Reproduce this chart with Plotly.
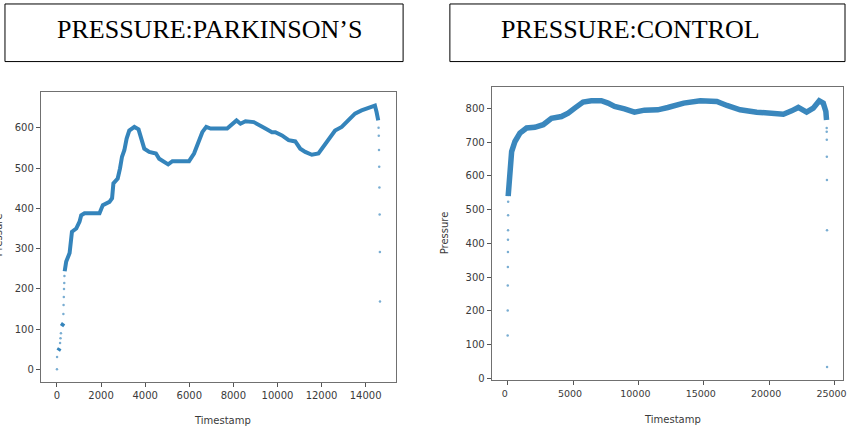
import plotly.graph_objects as go

W, H = 851, 440

# ---- Parkinson's subject: pressure over time ----
# dense part of the trace (None splits the clusters that are separated by sparse samples)
pk_time = [60, 90, 125, None,
           210, 250, 300, None,
           350, 420, 573, 680, 875, 1025, 1100, 1250, 1930, 2080, 2380, 2500, 2560,
           2755, 2860, 2950, 3056, 3160, 3280, 3510, 3700, 3810, 3960, 4185, 4490,
           4636, 4862, 5043, 5237, 5990, 6217, 6443, 6592, 6772, 6970, 7720, 7870,
           8143, 8323, 8550, 8925, 9150, 9453, 9750, 9905, 10205, 10506, 10808,
           11034, 11260, 11560, 11860, 12085, 12390, 12613, 12915, 13215, 13517,
           13815, 14117, 14420, 14495, 14570]
pk_pressure = [47, 52, 53, None,
               108, 113, 115, None,
               244, 268, 289, 342, 350, 367, 383, 388, 388, 408, 416, 425, 462,
               474, 499, 528, 544, 573, 593, 602, 596, 577, 548, 540, 536,
               523, 514, 509, 517, 517, 536, 565, 589, 602, 598, 598, 606,
               618, 610, 616, 614, 606, 598, 589, 589, 581, 569, 566,
               548, 540, 533, 536, 552, 577, 593, 602, 618, 635,
               643, 649, 655, 639, 618]
# isolated samples at the start and end of the recording
pk_sparse_time = [0, 5, 140, 160, 180, 290, 300, 310, 320, 330, 340,
                  14585, 14595, 14605, 14615, 14625, 14635, 14645, 14650]
pk_sparse_pressure = [1, 31, 66, 78, 90, 138, 160, 180, 200, 215, 232,
                      600, 580, 545, 503, 452, 385, 292, 169]

# ---- Control subject: pressure over time ----
ct_time = [40, 120, 178, 305, 560, 940, 1450, 2080, 2720, 3350, 4115, 4625, 5130,
           5770, 6400, 7165, 7675, 8180, 8940, 9700, 10465, 11480, 12250, 13465,
           14735, 16000, 16770, 17780, 19055, 20325, 21090, 21720, 22230, 22865,
           23375, 23830, 24140, 24340, 24390]
ct_pressure = [540, 600, 623, 672, 702, 727, 742, 744, 752, 771, 776, 786, 801,
               819, 823, 823, 816, 806, 799, 789, 795, 796, 803, 816,
               823, 821, 809, 796, 789, 783, 783, 793, 803, 789,
               801, 823, 816, 791, 766]
ct_sparse_time = [0, 5, 10, 15, 20, 25, 30, 35, 38,
                  24400, 24405, 24410, 24415, 24420, 24425, 24430]
ct_sparse_pressure = [127, 201, 275, 330, 374, 411, 439, 483, 523,
                      742, 731, 707, 657, 588, 439, 33]

x_ticks_pk = [0, 2000, 4000, 6000, 8000, 10000, 12000, 14000]
y_ticks_pk = [0, 100, 200, 300, 400, 500, 600]
x_ticks_ct = [0, 5000, 10000, 15000, 20000, 25000]
y_ticks_ct = [0, 100, 200, 300, 400, 500, 600, 700, 800]

titles = ["PRESSURE:PARKINSON\u2019S", "PRESSURE:CONTROL"]
x_label = "Timestamp"
y_label = "Pressure"

BLUE = "#1f77b4"


def padded(*series):
    vals = [v for s in series for v in s if v is not None]
    lo, hi = min(vals), max(vals)
    pad = 0.05 * (hi - lo)
    return [lo - pad, hi + pad]


def px(x):
    return x / W


def py(y):
    return 1 - y / H


fig = go.Figure()

fig.add_trace(go.Scatter(x=pk_time, y=pk_pressure, mode="lines",
                         line=dict(color=BLUE, width=4), opacity=0.9,
                         xaxis="x", yaxis="y", hoverinfo="skip"))
fig.add_trace(go.Scatter(x=pk_sparse_time, y=pk_sparse_pressure, mode="markers",
                         marker=dict(color=BLUE, size=2.5, opacity=0.6),
                         xaxis="x", yaxis="y", hoverinfo="skip"))
fig.add_trace(go.Scatter(x=ct_time, y=ct_pressure, mode="lines",
                         line=dict(color=BLUE, width=5.5), opacity=0.88,
                         xaxis="x2", yaxis="y2", hoverinfo="skip"))
fig.add_trace(go.Scatter(x=ct_sparse_time, y=ct_sparse_pressure, mode="markers",
                         marker=dict(color=BLUE, size=2.5, opacity=0.6),
                         xaxis="x2", yaxis="y2", hoverinfo="skip"))

tick_font = dict(family="DejaVu Sans", size=10, color="#3a3a3a")
axis_common = dict(showline=True, mirror=True, linecolor="#707070", linewidth=1,
                   showgrid=False, zeroline=False, ticks="outside", ticklen=4,
                   tickcolor="#555555", tickwidth=1)

fig.update_layout(
    width=W, height=H,
    margin=dict(l=0, r=0, t=0, b=0),
    paper_bgcolor="white", plot_bgcolor="white",
    showlegend=False,
    xaxis=dict(domain=[px(41), px(398)], anchor="y",
               range=padded(pk_time, pk_sparse_time), tickfont=tick_font,
               tickvals=x_ticks_pk, ticktext=[str(v) for v in x_ticks_pk], **axis_common),
    yaxis=dict(domain=[py(385), py(93)], anchor="x",
               range=padded(pk_pressure, pk_sparse_pressure), tickfont=tick_font,
               tickvals=y_ticks_pk, ticktext=[str(v) for v in y_ticks_pk], **axis_common),
    # slightly smaller labels nudged left so the last one stays on the page
    xaxis2=dict(domain=[px(494), px(847)], anchor="y2",
                range=padded(ct_time, ct_sparse_time),
                tickfont=dict(tick_font, size=9.5), ticklabelshift=-3,
                tickvals=x_ticks_ct, ticktext=[str(v) for v in x_ticks_ct], **axis_common),
    yaxis2=dict(domain=[py(383), py(88)], anchor="x2",
                range=padded(ct_pressure, ct_sparse_pressure), tickfont=tick_font,
                tickvals=y_ticks_ct, ticktext=[str(v) for v in y_ticks_ct], **axis_common),
)

# boxed panel headings
for (x0, x1) in [(5, 405), (452, 849)]:
    fig.add_shape(type="rect", xref="paper", yref="paper",
                  x0=px(x0), x1=px(x1), y0=py(62), y1=py(4),
                  line=dict(color="black", width=1), fillcolor="white")

head_font = dict(family="Liberation Serif", size=26, color="black")
fig.add_annotation(text=titles[0], xref="paper", yref="paper",
                   x=px(210), y=py(30), xanchor="center", yanchor="middle",
                   showarrow=False, font=head_font)
fig.add_annotation(text=titles[1], xref="paper", yref="paper",
                   x=px(501), y=py(30), xanchor="left", yanchor="middle",
                   showarrow=False, font=head_font)

label_font = dict(family="DejaVu Sans", size=10, color="#3a3a3a")
fig.add_annotation(text=x_label, xref="paper", yref="paper", x=px(224), y=py(423),
                   xanchor="center", yanchor="middle", showarrow=False, font=label_font)
fig.add_annotation(text=x_label, xref="paper", yref="paper", x=px(676), y=py(422),
                   xanchor="center", yanchor="middle", showarrow=False, font=label_font)
fig.add_annotation(text=y_label, xref="paper", yref="paper", x=px(447), y=py(234),
                   xanchor="center", yanchor="middle", textangle=-90,
                   showarrow=False, font=label_font)
fig.add_annotation(text=y_label, xref="paper", yref="paper", x=px(-2), y=py(237),
                   xanchor="center", yanchor="middle", textangle=-90,
                   showarrow=False, font=label_font)

fig.write_html("out.html")
